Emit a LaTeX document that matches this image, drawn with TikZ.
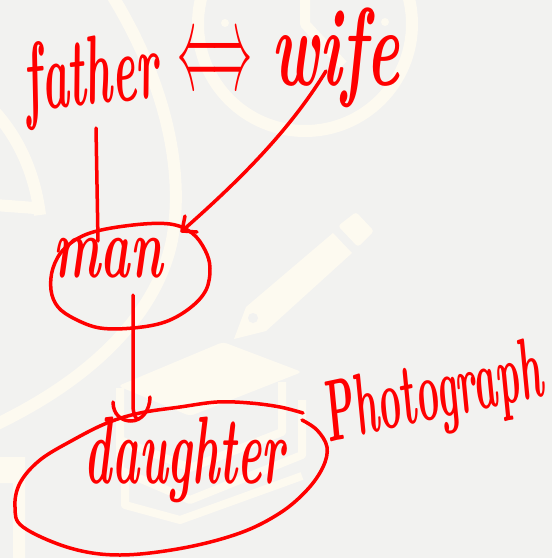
\documentclass[tikz,border=0pt]{standalone}
\usepackage{graphicx}
\definecolor{bgc}{HTML}{F2F2F0}
\definecolor{wm}{HTML}{FDFAF0}
\definecolor{ink}{HTML}{FF0000}
\newcommand{\hand}[3]{\resizebox*{#1pt}{#2pt}{\bfseries\itshape #3}}
\begin{document}
\begin{tikzpicture}[x=1pt,y=-1pt,
  inkline/.style={draw=ink, line width=3.5pt, line cap=round, line join=round},
  wmline/.style={draw=wm, line width=12pt},
  word/.style={text=ink, inner sep=0pt, anchor=center}]
\fill[bgc] (0,0) rectangle (552,558);
\useasboundingbox (0,0) rectangle (552,558);
\begin{scope}
\clip (0,0) rectangle (552,558);
% watermark icons
\draw[wm, line width=12pt] (305,24) circle[radius=107pt];
\draw[wm, line width=10pt, line join=round] (305,-10) -- (305,24) -- (343,65);
\fill[wm] (225,23) circle[radius=4pt] (385,22) circle[radius=4pt];
\draw[wmline] (110,-8) .. controls (165,80) and (185,170) .. (172,240) .. controls (160,300) and (110,370) .. (-5,425);
\draw[wmline] (-5,112) .. controls (20,140) and (35,175) .. (40,215);
\draw[wmline] (-5,205) -- (35,208);
% pencil
\fill[wm, rounded corners=3pt] (338,226) -- (356,212) -- (374,231) -- (358,247) -- cycle;
\fill[wm] (333,233) -- (352,253) -- (266,331) -- (234,339) -- (246,307) -- cycle;
\fill[bgc] (253,318) circle[radius=5pt];
% books and cap
\fill[wm, rounded corners=4pt] (118,386) -- (223,342) -- (302,372) -- (190,416) -- cycle;
\draw[wm, line width=8pt, line join=round] (120,388) -- (120,440) -- (190,468) -- (282,432) -- (282,382);
\draw[wm, line width=8pt, line join=round] (120,440) -- (120,470) -- (190,500) -- (302,455) -- (302,400);
\draw[wm, line width=8pt, line join=round] (125,470) -- (125,505) -- (180,520) -- (302,476);
\fill[wm] (0,457) -- (25,457) -- (25,558) -- (13,558) -- (13,483) -- (0,483) -- cycle;
\end{scope}
% words
\node[word, rotate=6] (father) at (91,80) {\hand{135}{88}{father}};
\node[word] (iff) at (215,66) {\resizebox*{75pt}{45pt}{$\Longleftrightarrow$}};
\node[word] (wife) at (336,58) {\hand{128}{100}{wife}};
\node[word] (man) at (108,258) {\hand{109}{40}{man}};
\node[word] (daughter) at (185,460) {\hand{200}{86}{daughter}};
\node[word, rotate=12] (photo) at (433,398) {\hand{222}{78}{Photograph}};
% ellipses
\draw[inkline] plot[smooth cycle, tension=0.6] coordinates {(133,225) (170,224) (192,233) (205,250) (210,268) (206,290) (190,308) (165,322) (133,328) (100,328) (75,319) (58,307) (51,290) (53,268) (65,248) (90,233)};
\draw[inkline] plot[smooth, tension=0.6] coordinates {(302,420) (317,430) (327,447) (323,467) (307,490) (280,513) (240,533) (183,548) (120,555) (70,548) (23,527) (15,507) (20,483) (40,460) (73,440) (107,423) (140,413) (180,407) (217,402) (250,403) (280,407) (303,413)};
% connectors
\coordinate (fs) at (96,128);
\coordinate (fe) at (98,241);
\draw[inkline] (fs) -- (fe);
\coordinate (ws) at (326,71);
\coordinate (wt) at (182,231);
\draw[inkline] (ws) .. controls (290,130) and (240,180) .. (wt);
\draw[inkline] (185,216) -- (wt) -- (197,232);
\coordinate (ms) at (133,295);
\coordinate (mt) at (131,421);
\draw[inkline] (ms) -- (133,405) .. controls (133,413) and (135,417) .. (137,419);
\draw[inkline] (113,402) .. controls (113,415) and (122,421) .. (mt) .. controls (142,421) and (150,410) .. (150,397);
\end{tikzpicture}
\end{document}
